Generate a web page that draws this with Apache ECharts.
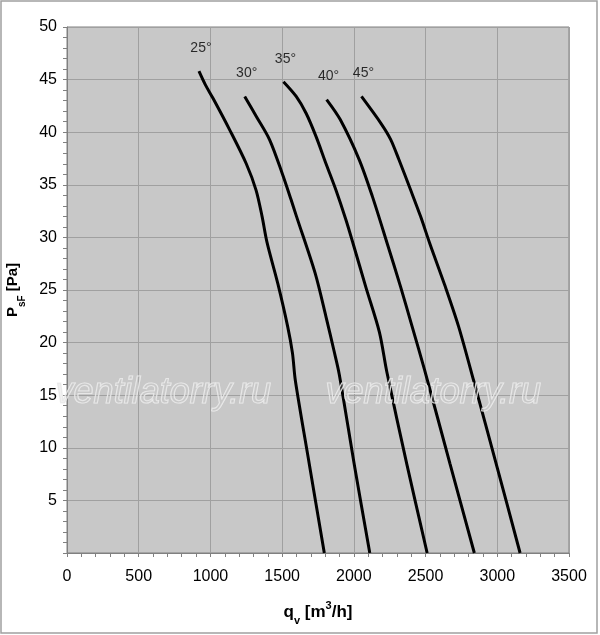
<!DOCTYPE html>
<html>
<head>
<meta charset="utf-8">
<script src="https://cdn.jsdelivr.net/npm/echarts@6/dist/echarts.min.js"></script>
<style>
html,body{margin:0;padding:0;background:#fff;}
#chart{width:600px;height:635px;}
</style>
</head>
<body>
<div id="chart"></div>
<script>
// Blade angles and their curves (q_v in m3/h, P_sF in Pa)
const angles = ['25°', '30°', '35°', '40°', '45°'];
const curve25 = [[920,45.8],[965,44.5],[1019,43.2],[1135,40.2],[1250,37.0],[1318,34.5],[1360,32.0],[1395,29.5],[1470,25.6],[1539,21.5],[1572,19.0],[1592,16.4],[1690,8.4],[1794,0]];
const curve30 = [[1239,43.4],[1320,41.5],[1412,39.3],[1500,36.1],[1562,33.6],[1600,32.0],[1730,26.6],[1805,22.5],[1862,19.2],[1898,17.0],[2008,8.0],[2111,0]];
const curve35 = [[1509,44.8],[1598,43.4],[1667,41.8],[1736,39.6],[1806,37.0],[1875,34.5],[1944,31.7],[1995,29.4],[2083,25.3],[2178,21.0],[2230,17.2],[2370,8.4],[2511,0]];
const curve40 = [[1810,43.1],[1905,41.2],[2037,37.4],[2129,33.9],[2233,29.4],[2326,25.3],[2407,21.5],[2493,17.4],[2670,8.5],[2840,0]];
const curve45 = [[2053,43.4],[2191,40.8],[2257,39.3],[2314,37.4],[2396,34.5],[2465,32.0],[2530,29.4],[2638,25.3],[2731,21.5],[2835,16.4],[3000,8.1],[3159,0]];
const curves = [curve25, curve30, curve35, curve40, curve45];
const xTicks = [0, 500, 1000, 1500, 2000, 2500, 3000, 3500];
const yTicks = [0, 5, 10, 15, 20, 25, 30, 35, 40, 45, 50];
const watermark = 'ventilatorry.ru';

const FONT = 'Liberation Sans, Arial, sans-serif';
const chart = echarts.init(document.getElementById('chart'), null, {renderer: 'canvas'});

const lineSeries = curves.map((c, i) => ({
  type: 'line',
  name: angles[i],
  data: c,
  showSymbol: false,
  symbol: 'none',
  smooth: 0.3,
  lineStyle: {color: '#000', width: 3},
  z: 5
}));

const labelSeries = {
  type: 'scatter',
  data: curves.map(c => c[0]),
  symbolSize: 0.1,
  itemStyle: {color: 'rgba(0,0,0,0)'},
  label: {
    show: true,
    position: 'top',
    distance: 16,
    offset: [2, 0],
    color: '#000',
    fontSize: 14,
    fontFamily: FONT,
    formatter: p => angles[p.dataIndex]
  },
  z: 6
};

const option = {
  animation: false,
  backgroundColor: '#fff',
  grid: {
    left: 67, right: 31, top: 27, bottom: 82,
    containLabel: false, outerBoundsMode: 'none',
    show: true, backgroundColor: '#c8c8c8', borderColor: '#808080', borderWidth: 1
  },
  xAxis: {
    type: 'value',
    min: xTicks[0], max: xTicks[xTicks.length - 1], interval: 500,
    axisLine: {show: true, lineStyle: {color: '#808080', width: 1}},
    axisTick: {show: true, length: 4, lineStyle: {color: '#808080'}},
    minorTick: {show: true, splitNumber: 5, length: 4, lineStyle: {color: '#808080'}},
    splitLine: {show: true, lineStyle: {color: '#a0a0a0', width: 1}},
    axisLabel: {color: '#000', fontSize: 16, fontFamily: FONT, margin: 16,
      formatter: v => String(v)},
    name: '{b|q}{s|v}{b| [m}{p|3}{b|/h]}',
    nameLocation: 'middle',
    nameGap: 49,
    nameTextStyle: {
      rich: {
        b: {fontSize: 17, fontWeight: 'bold', fontFamily: FONT, color: '#000', lineHeight: 20, verticalAlign: 'middle'},
        s: {fontSize: 11, fontWeight: 'bold', fontFamily: FONT, color: '#000', lineHeight: 20, verticalAlign: 'bottom', padding: [0, 0, -4, 0]},
        p: {fontSize: 11, fontWeight: 'bold', fontFamily: FONT, color: '#000', lineHeight: 20, verticalAlign: 'top', padding: [-2, 0, 0, 0]}
      }
    }
  },
  yAxis: {
    type: 'value',
    min: yTicks[0], max: yTicks[yTicks.length - 1], interval: 5,
    axisLine: {show: true, lineStyle: {color: '#808080', width: 1}},
    axisTick: {show: true, length: 4, lineStyle: {color: '#808080'}},
    minorTick: {show: true, splitNumber: 5, length: 4, lineStyle: {color: '#808080'}},
    splitLine: {show: true, lineStyle: {color: '#a0a0a0', width: 1}},
    axisLabel: {color: '#000', fontSize: 16, fontFamily: FONT, margin: 10,
      formatter: v => (v === 0 ? '' : String(v))},
    name: '{b|P}{s|sF}{b| [Pa]}',
    nameLocation: 'middle',
    nameGap: 44,
    nameTextStyle: {
      rich: {
        b: {fontSize: 15, fontWeight: 'bold', fontFamily: FONT, color: '#000', lineHeight: 20, verticalAlign: 'middle'},
        s: {fontSize: 10, fontWeight: 'bold', fontFamily: FONT, color: '#000', lineHeight: 20, verticalAlign: 'bottom', padding: [0, 0, -4, 0]}
      }
    }
  },
  graphic: [
    {type: 'rect', shape: {x: 1, y: 1, width: 596, height: 632},
     style: {fill: 'none', stroke: '#a0a0a0', lineWidth: 1.5}, z: 0, silent: true},
    {type: 'text', left: 55, top: 374, z: 100, silent: true,
     style: {text: watermark, fontSize: 36, fontStyle: 'italic', fontFamily: FONT,
       fill: 'rgba(200,200,200,0.25)', stroke: 'rgba(240,240,240,0.9)', lineWidth: 1.2}},
    {type: 'text', left: 325, top: 374, z: 100, silent: true,
     style: {text: watermark, fontSize: 36, fontStyle: 'italic', fontFamily: FONT,
       fill: 'rgba(200,200,200,0.25)', stroke: 'rgba(240,240,240,0.9)', lineWidth: 1.2}}
  ],
  series: lineSeries.concat([labelSeries])
};
chart.setOption(option);
</script>
</body>
</html>
